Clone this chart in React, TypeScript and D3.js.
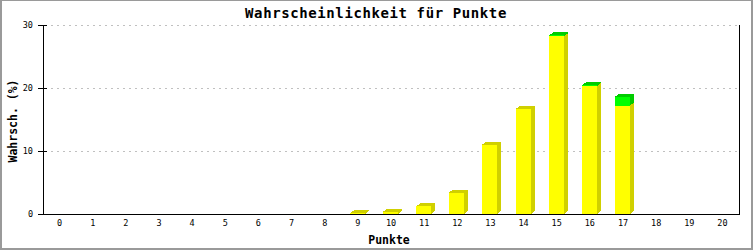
import React from "react";
import * as d3 from "d3";

const categories = Array.from({ length: 21 }, (_, i) => String(i));
const baseValues = [0, 0, 0, 0, 0, 0, 0, 0, 0, 0.1, 0.35, 1.2, 3.4, 11.0, 16.7, 28.2, 20.3, 17.2, 0, 0, 0];
const topValues = [0, 0, 0, 0, 0, 0, 0, 0, 0, 0, 0, 0, 0, 0, 0, 0.15, 0.15, 1.4, 0, 0, 0];
const yTicks = [0, 10, 20, 30];
const title = "Wahrscheinlichkeit für Punkte";
const yTitle = "Wahrsch. (%)";
const xTitle = "Punkte";

const W = 753, H = 250;
const left = 43, right = 739, top = 25, bottom = 214;
const mono = "'DejaVu Sans Mono', monospace";

export default function App() {
  const x = d3.scaleBand<string>().domain(categories).range([left, right]).paddingInner(0).paddingOuter(0);
  const y = d3.scaleLinear().domain([0, 30]).range([bottom, top]);
  const bw = 15, dx = 4, dy = 3;

  const series = [
    { vals: baseValues, front: "#ffff00", dark: "#d0d000" },
    { vals: topValues, front: "#00ff00", dark: "#00cc00" },
  ];

  const bars: React.ReactNode[] = [];
  categories.forEach((c, i) => {
    let acc = 0;
    series.forEach((s, si) => {
      const v = s.vals[i];
      if (v <= 0) return;
      const y0 = y(acc);
      const y1 = y(acc + v);
      acc += v;
      const cx = (x(c) as number) + x.bandwidth() / 2;
      const x0 = Math.round(cx - 8);
      const x1 = x0 + bw;
      const yt = y1;
      bars.push(
        <g key={`${i}-${si}`}>
          <polygon points={`${x1},${y0} ${x1 + dx},${y0 - dy} ${x1 + dx},${yt - dy} ${x1},${yt}`} fill={s.dark} />
          <polygon points={`${x0},${yt} ${x0 + dx},${yt - dy} ${x1 + dx},${yt - dy} ${x1},${yt}`} fill={s.dark} />
          <rect x={x0} y={yt} width={bw} height={Math.max(0, y0 - yt)} fill={s.front} />
        </g>
      );
    });
  });

  return (
    <svg width={W} height={H} style={{ position: "absolute", left: 0, top: 0 }} fontFamily={mono}>
      <rect x={0} y={0} width={W} height={H} fill="#9a9a9a" />
      <rect x={2} y={1} width={W - 4} height={H - 3} fill="#ffffff" />
      <text x={376} y={18} textAnchor="middle" fontSize={14} fontWeight="bold" letterSpacing={0.6}>{title}</text>
      {yTicks.filter(t => t > 0).map(t => (
        <line key={t} x1={left + 2} x2={right - 2} y1={y(t) + 0.5} y2={y(t) + 0.5} stroke="#c0c0c0" strokeDasharray="2,4" />
      ))}
      <g shapeRendering="crispEdges">{bars}</g>
      <line x1={left + 0.5} x2={left + 0.5} y1={top} y2={bottom + 1} stroke="#000" />
      <line x1={right + 0.5} x2={right + 0.5} y1={top} y2={bottom + 1} stroke="#000" />
      <line x1={left} x2={right + 1} y1={bottom + 0.5} y2={bottom + 0.5} stroke="#000" />
      {yTicks.map(t => (
        <g key={t}>
          <line x1={38} x2={47} y1={y(t) + 0.5} y2={y(t) + 0.5} stroke="#000" />
          <text x={33} y={y(t) + 3} textAnchor="end" fontSize={8.5}>{t}</text>
        </g>
      ))}
      {categories.map(c => (
        <text key={c} x={(x(c) as number) + x.bandwidth() / 2} y={226} textAnchor="middle" fontSize={8.5}>{c}</text>
      ))}
      <text x={389} y={244} textAnchor="middle" fontSize={11.5} fontWeight="bold">{xTitle}</text>
      <text transform={`translate(17,121) rotate(-90)`} textAnchor="middle" fontSize={11.5} fontWeight="bold">{yTitle}</text>
    </svg>
  );
}
